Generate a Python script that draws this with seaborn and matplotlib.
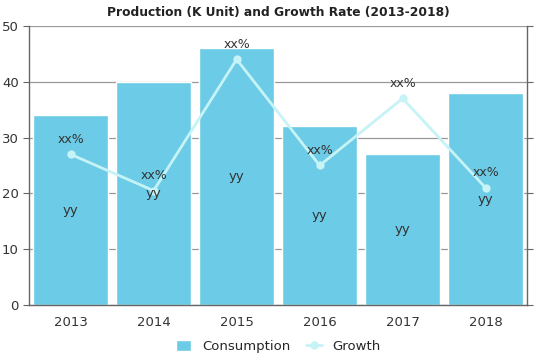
import numpy as np
import pandas as pd
import matplotlib
matplotlib.use('Agg')
import matplotlib.pyplot as plt
import seaborn as sns

years = ['2013', '2014', '2015', '2016', '2017', '2018']
consumption = [34, 40, 46, 32, 27, 38]
growth = [27, 20.5, 44, 25, 37, 21]
bar_labels = ['yy'] * 6
growth_labels = ['xx%'] * 6

df = pd.DataFrame({'year': years, 'consumption': consumption, 'growth': growth})

sns.set_style('white')
plt.rcParams['font.family'] = ['DejaVu Sans']

fig = plt.figure(figsize=(5.39, 3.59), dpi=100)
ax = fig.add_axes([0.054, 0.150, 0.924, 0.778])

sns.barplot(data=df, x='year', y='consumption', color='#6ccbe6', saturation=1,
            width=0.9, ax=ax, label='Consumption', zorder=2)
sns.lineplot(x=np.arange(len(years)), y=df['growth'], color='#c6f3f6', lw=2,
             marker='o', markersize=6, markeredgewidth=0, ax=ax, label='Growth', zorder=3)

for i in range(len(years)):
    ax.text(i, consumption[i] / 2, bar_labels[i], ha='center', va='center',
            fontsize=9.5, color='#333333', zorder=4)
    ax.text(i, growth[i] + 1.5, growth_labels[i], ha='center', va='bottom',
            fontsize=9, color='#333333', zorder=4)

ax.set_ylim(0, 50)
ax.set_xlim(-0.5, 5.5)
ax.set_yticks(range(0, 51, 10))
ax.yaxis.grid(True, color='#999999', lw=0.9)
ax.set_axisbelow(True)
ax.set_xlabel('')
ax.set_ylabel('')
for s in ['left', 'bottom', 'right']:
    ax.spines[s].set_color('#666666')
    ax.spines[s].set_linewidth(1)
ax.spines['top'].set_visible(False)
ax.tick_params(axis='both', labelsize=9.5, colors='#666666', labelcolor='#333333',
               length=4, direction='out')
ax.tick_params(axis='y', right=True, left=True)

ax.set_title('Production (K Unit) and Growth Rate (2013-2018)', fontsize=8.8,
             fontweight='heavy', color='#222222', pad=7)

handles, labels = ax.get_legend_handles_labels()
order = [labels.index('Consumption'), labels.index('Growth')]
ax.legend([handles[k] for k in order], [labels[k] for k in order],
          loc='upper center', bbox_to_anchor=(0.5, -0.095), ncol=2, frameon=False,
          fontsize=9.5, handlelength=1.2, handleheight=1.0, columnspacing=1.2,
          borderaxespad=0.2)

fig.savefig('out.png', dpi=100)
